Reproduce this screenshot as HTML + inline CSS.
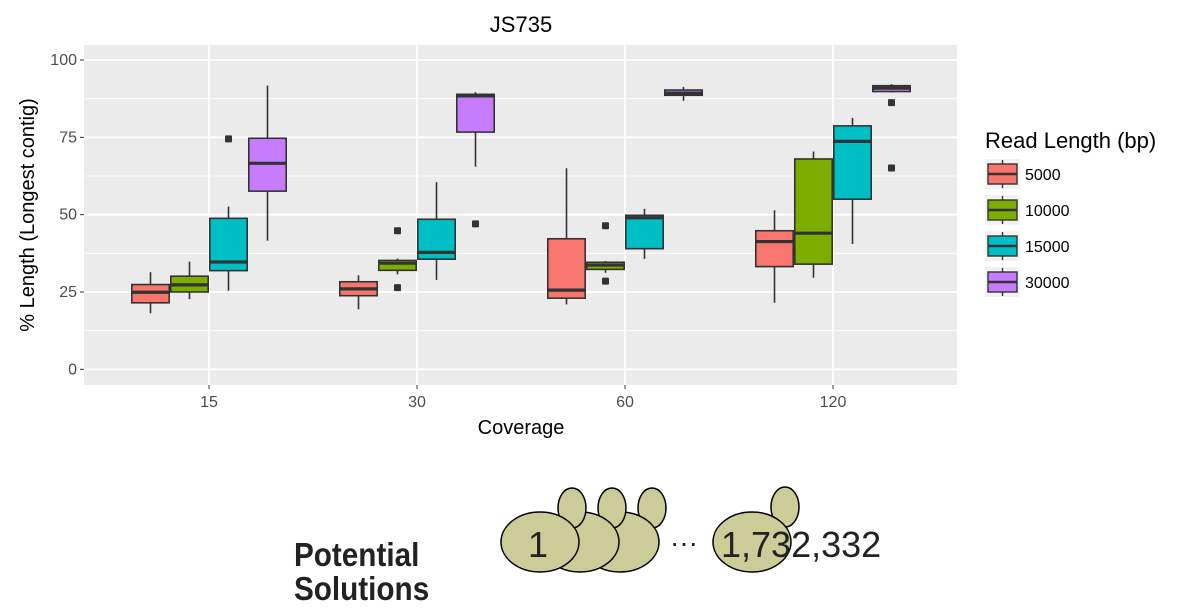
<!DOCTYPE html>
<html><head><meta charset="utf-8"><style>
body{margin:0;background:#fff;width:1202px;height:614px;overflow:hidden;font-family:"Liberation Sans",sans-serif}
svg{display:block}
</style></head><body>
<svg id="chart" width="1202" height="614">
<text x="521" y="32" font-size="22" text-anchor="middle" fill="#000">JS735</text>
<rect x="84" y="45" width="873" height="340" fill="#ebebeb"/>
<g id="grid"></g><g id="marks"></g><g id="axes"></g>
<text x="521" y="434" font-size="20" text-anchor="middle">Coverage</text>
<text transform="translate(34,215) rotate(-90)" font-size="20" text-anchor="middle">% Length (Longest contig)</text>
<g id="legend">
<text x="985" y="148" font-size="22">Read Length (bp)</text>
</g>
<g>
<text x="294" y="566" font-size="33" font-weight="bold" fill="#222" transform="translate(294,0) scale(0.9,1) translate(-294,0)">Potential</text>
<text x="294" y="600" font-size="33" font-weight="bold" fill="#222" transform="translate(294,0) scale(0.9,1) translate(-294,0)">Solutions</text>
<g fill="#cccc99" stroke="#000" stroke-width="1.5">
<ellipse cx="652" cy="508" rx="14" ry="20"/>
<ellipse cx="620" cy="542" rx="39" ry="30"/>
<ellipse cx="612" cy="508" rx="14" ry="20"/>
<ellipse cx="580" cy="542" rx="39" ry="30"/>
<ellipse cx="572" cy="508" rx="14" ry="20"/>
<ellipse cx="540" cy="542" rx="39" ry="30"/>
<ellipse cx="785" cy="507" rx="14" ry="20"/>
<ellipse cx="752" cy="542" rx="39" ry="30"/>
</g>
<text x="538" y="557" font-size="36" text-anchor="middle" fill="#222">1</text>
<text x="684" y="552" font-size="28" text-anchor="middle" fill="#222">···</text>
<text x="721" y="557" font-size="36" fill="#222">1,732,332</text>
</g>
</svg>
<script>
const categories=["15","30","60","120"];
const series=["5000","10000","15000","30000"];
const colors=["#f8766d","#7cae00","#00bfc4","#c77cff"];
const yTicks=[0,25,50,75,100];
const stats5000=[[18.1,21.5,24.9,27.4,31.4],[19.4,23.8,26.0,28.3,30.4],[21.0,23.0,25.6,42.2,65.0],[21.5,33.2,41.3,44.8,51.4]];
const stats10000=[[22.7,25.0,27.3,30.1,34.8],[30.7,32.0,34.3,35.2,35.8],[31.2,32.3,33.7,34.6,35.0],[29.6,34.0,44.0,68.0,70.4]];
const stats15000=[[25.4,31.9,34.7,48.8,52.6],[28.9,35.6,37.8,48.5,60.5],[35.7,39.0,49.0,49.8,51.9],[40.5,55.0,73.7,78.7,81.3]];
const stats30000=[[41.6,57.6,66.6,74.7,91.7],[65.5,76.7,88.4,88.9,89.6],[86.8,88.6,89.3,90.3,91.3],[89.5,89.8,90.9,91.7,92.2]];
const outliers5000=[[],[],[],[]];
const outliers10000=[[],[44.8,26.4],[46.4,28.5],[]];
const outliers15000=[[74.5],[],[],[]];
const outliers30000=[[],[47.0],[],[86.2,65.1]];
const allStats=[stats5000,stats10000,stats15000,stats30000];
const allOut=[outliers5000,outliers10000,outliers15000,outliers30000];
const NS="http://www.w3.org/2000/svg";
const y=v=>369.3-v*3.093;
const x=i=>209+i*208;
function mk(t,a,p){const e=document.createElementNS(NS,t);for(const k in a)e.setAttribute(k,a[k]);p.appendChild(e);return e;}
const grid=document.getElementById('grid'),marks=document.getElementById('marks'),axes=document.getElementById('axes'),leg=document.getElementById('legend');
for(let i=0;i<yTicks.length-1;i++){const l=mk('line',{x1:84,x2:957,y1:y((yTicks[i]+yTicks[i+1])/2),y2:y((yTicks[i]+yTicks[i+1])/2),stroke:'#fff','stroke-width':0.8},grid);

}
yTicks.forEach(t=>{const l=mk('line',{x1:84,x2:957,y1:y(t),y2:y(t),stroke:'#fff','stroke-width':1.8},grid);


const tk=mk('line',{x1:80,x2:84,y1:y(t),y2:y(t),stroke:'#333'},axes);


const tx=mk('text',{x:77,y:y(t)+5,'font-size':16,'text-anchor':'end',fill:'#4d4d4d'},axes);tx.textContent=t;

});
categories.forEach((c,i)=>{const l=mk('line',{x1:x(i),x2:x(i),y1:45,y2:385,stroke:'#fff','stroke-width':1.8},grid);


const tk=mk('line',{x1:x(i),x2:x(i),y1:385,y2:389,stroke:'#333'},axes);


const tx=mk('text',{x:x(i),y:407,'font-size':16,'text-anchor':'middle',fill:'#4d4d4d'},axes);tx.textContent=c;

});
const bw=39;
categories.forEach((c,i)=>{series.forEach((s,j)=>{
const st=allStats[j][i];const cx=x(i)+(j-1.5)*bw;
const g=mk('g',{},marks);


mk('line',{x1:cx,x2:cx,y1:y(st[0]),y2:y(st[4]),stroke:'#333','stroke-width':1.6},g);
mk('rect',{x:cx-bw/2+0.8,y:y(st[3]),width:bw-1.6,height:Math.max(0.5,y(st[1])-y(st[3])),fill:colors[j],stroke:'#333','stroke-width':1.6},g);
mk('line',{x1:cx-bw/2+0.8,x2:cx+bw/2-0.8,y1:y(st[2]),y2:y(st[2]),stroke:'#333','stroke-width':3.2},g);
allOut[j][i].forEach(o=>{const r=mk('rect',{x:cx-3.5,y:y(o)-3.5,width:7,height:7,rx:1,fill:'#333'},g);

});
});});
series.forEach((s,j)=>{const yy=159+j*36;
const g=mk('g',{},leg);


mk('rect',{x:985,y:yy,width:35,height:30,fill:'#f2f2f2'},g);
mk('line',{x1:1002.5,x2:1002.5,y1:yy+1,y2:yy+29,stroke:'#333','stroke-width':1.4},g);
mk('rect',{x:988,y:yy+5,width:29,height:20,fill:colors[j],stroke:'#333','stroke-width':1.4},g);
mk('line',{x1:988,x2:1017,y1:yy+15,y2:yy+15,stroke:'#333','stroke-width':2.4},g);
const t=mk('text',{x:1025,y:yy+21,'font-size':16},g);t.textContent=s;});
</script>
</body></html>
